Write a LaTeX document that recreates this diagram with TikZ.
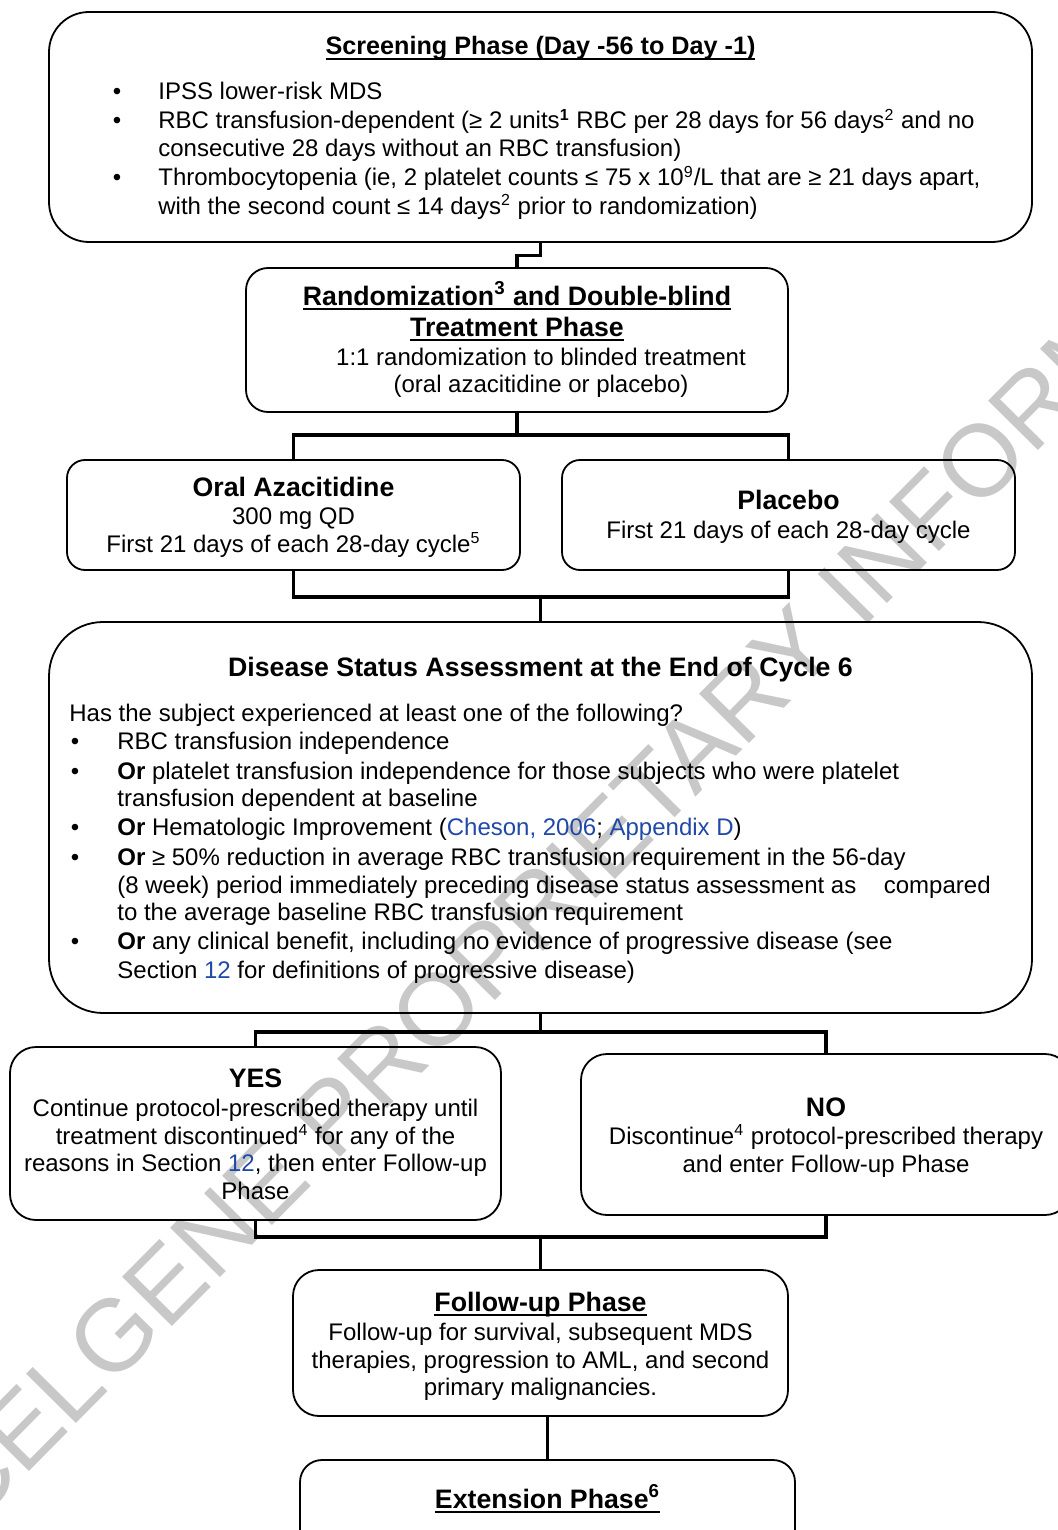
\documentclass[tikz,border=0pt]{standalone}
\usepackage{fontspec}
\setmainfont{Liberation Sans}
\usetikzlibrary{fit}
\newcommand\myul[1]{\leavevmode\setbox0\hbox{#1}\rlap{\rule[-2.4pt]{\wd0}{0.9pt}}\box0}
\definecolor{linkblue}{RGB}{32,72,168}
\definecolor{wmgray}{RGB}{200,200,200}
\tikzset{
  box/.style={draw, line width=0.9pt, inner sep=0pt},
  conn/.style={line width=1.6pt, line join=miter},
  txt/.style={anchor=base, inner sep=0pt, font=\fontsize{12}{14}\selectfont},
  ttl/.style={anchor=base, inner sep=0pt, font=\fontsize{13.35}{15.5}\selectfont\bfseries},
  ltxt/.style={txt, anchor=base west},
  bul/.style={txt},
  wmark/.style={anchor=base west, inner sep=0pt, rotate=45.3, text=wmgray, font=\fontsize{51}{60}\selectfont}
}
\begin{document}
\begin{tikzpicture}[x=0.5pt,y=-0.5pt]
\useasboundingbox (0,0) rectangle (1058,1530);
% watermark
\node[wmark] (wm) at (-29,1530) {CELGENE PROPRIETARY INFORMATION};

% boxes
\node[box, rounded corners=20pt, fit={(49,12) (1032,242)}] (scr) {};
\node[box, rounded corners=11pt, fit={(246,268) (788,412)}] (rand) {};
\node[box, rounded corners=9pt, fit={(67,460) (520,570)}] (aza) {};
\node[box, rounded corners=9pt, fit={(562,460) (1015,570)}] (plac) {};
\node[box, rounded corners=27pt, fit={(49,622) (1032,1013)}] (dis) {};
\node[box, rounded corners=13pt, fit={(10,1047) (501,1220)}] (yes) {};
\node[box, rounded corners=13pt, fit={(581,1054) (1071,1215)}] (no) {};
\node[box, rounded corners=13pt, fit={(293,1270) (788,1416)}] (fup) {};
\node[box, rounded corners=11pt, fit={(300,1460) (795,1570)}] (ext) {};

% junctions
\coordinate (j1) at (517,435);
\coordinate (j2) at (540.5,597);
\coordinate (j3) at (540.5,1032);
\coordinate (j4) at (540.5,1237);

% connectors
\draw[conn] (scr.south) -- ++(0,13) -| (rand.north);
\draw[conn] (rand.south) -- (j1);
\draw[conn] (aza.north) |- (j1) -| (plac.north);
\draw[conn] (aza.south) |- (j2) -| (plac.south);
\draw[conn] (j2) -- (dis.north);
\draw[conn] (dis.south) -- (j3);
\draw[conn] (yes.north) |- (j3) -| (no.north);
\draw[conn] (yes.south) |- (j4) -| (no.south);
\draw[conn] (j4) -- (fup.north);
\draw[conn] (fup.south -| ext.north) -- (ext.north);

% screening text
\node[ttl, font=\fontsize{12.6}{15}\selectfont\bfseries] (scrt) at (540.5,55) {\myul{Screening Phase (Day -56 to Day -1)}};
\node[bul] (sb1) at (117,100) {•};
\node[bul] (sb2) at (117,129) {•};
\node[bul] (sb3) at (117,186) {•};
\node[ltxt] (s1) at (158,100) {IPSS lower-risk MDS};
\node[ltxt] (s2) at (158,129) {RBC transfusion-dependent (≥ 2 units\textsuperscript{\textbf{1}} RBC per 28 days for 56 days\textsuperscript{2} and no};
\node[ltxt] (s3) at (158,157) {consecutive 28 days without an RBC transfusion)};
\node[ltxt] (s4) at (158,186) {Thrombocytopenia (ie, 2 platelet counts ≤ 75 x 10\textsuperscript{9}/L that are ≥ 21 days apart,};
\node[ltxt] (s5) at (158,214) {with the second count ≤ 14 days\textsuperscript{2} prior to randomization)};

% randomization text
\node[ttl] (rt1) at (517,305) {\myul{Randomization\textsuperscript{3} and Double-blind}};
\node[ttl] (rt2) at (517,336) {\myul{Treatment Phase}};
\node[txt] (rb1) at (541,365) {1:1 randomization to blinded treatment};
\node[txt] (rb2) at (541,392) {(oral azacitidine or placebo)};

% arms
\node[ttl] (at) at (293.5,496) {Oral Azacitidine};
\node[txt] (a1) at (293.5,524) {300 mg QD};
\node[txt] (a2) at (293.5,552) {First 21 days of each 28-day cycle\textsuperscript{5}};
\node[ttl] (pt) at (788.5,509) {Placebo};
\node[txt] (p1) at (788.5,538) {First 21 days of each 28-day cycle};

% disease status
\node[ttl] (dt) at (540.5,676) {Disease Status Assessment at the End of Cycle 6};
\node[ltxt] (d0) at (69,721) {Has the subject experienced at least one of the following?};
\node[bul] (db1) at (75,749) {•};
\node[bul] (db2) at (75,779) {•};
\node[bul] (db3) at (75,835) {•};
\node[bul] (db4) at (75,865) {•};
\node[bul] (db5) at (75,949) {•};
\node[ltxt] (d1) at (117,749) {RBC transfusion independence};
\node[ltxt] (d2) at (117,779) {\textbf{Or} platelet transfusion independence for those subjects who were platelet};
\node[ltxt] (d3) at (117,806) {transfusion dependent at baseline};
\node[ltxt] (d4) at (117,835) {\textbf{Or} Hematologic Improvement (\textcolor{linkblue}{Cheson, 2006}; \textcolor{linkblue}{Appendix D})};
\node[ltxt] (d5) at (117,865) {\textbf{Or} ≥ 50\% reduction in average RBC transfusion requirement in the 56-day};
\node[ltxt] (d6) at (117,893) {(8 week) period immediately preceding disease status assessment as};
\node[txt, anchor=base east] (d6b) at (991,893) {compared};
\node[ltxt] (d7) at (117,920) {to the average baseline RBC transfusion requirement};
\node[ltxt] (d8) at (117,949) {\textbf{Or} any clinical benefit, including no evidence of progressive disease (see};
\node[ltxt] (d9) at (117,978) {Section \textcolor{linkblue}{12} for definitions of progressive disease)};

% yes / no
\node[ttl] (yt) at (255.5,1087) {YES};
\node[txt] (y1) at (255.5,1116) {Continue protocol-prescribed therapy until};
\node[txt] (y2) at (255.5,1144) {treatment discontinued\textsuperscript{4} for any of the};
\node[txt] (y3) at (255.5,1171) {reasons in Section \textcolor{linkblue}{12}, then enter Follow-up};
\node[txt] (y4) at (255.5,1199) {Phase};
\node[ttl] (nt) at (826,1116) {NO};
\node[txt] (n1) at (826,1144) {Discontinue\textsuperscript{4} protocol-prescribed therapy};
\node[txt] (n2) at (826,1172) {and enter Follow-up Phase};

% follow-up
\node[ttl] (ft) at (540.5,1311) {\myul{Follow-up Phase}};
\node[txt] (f1) at (540.5,1340) {Follow-up for survival, subsequent MDS};
\node[txt] (f2) at (540.5,1368) {therapies, progression to AML, and second};
\node[txt] (f3) at (540.5,1395) {primary malignancies.};

% extension
\node[ttl] (et) at (547.5,1508) {\myul{Extension Phase\textsuperscript{6}}};
\end{tikzpicture}
\end{document}
